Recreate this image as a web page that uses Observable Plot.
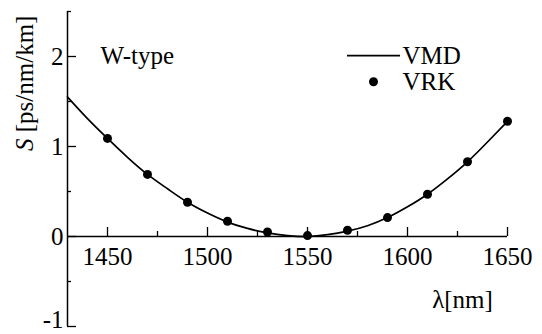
<!DOCTYPE html>
<html>
<head>
<meta charset="utf-8">
<script src="https://cdn.jsdelivr.net/npm/d3@7"></script>
<script src="https://cdn.jsdelivr.net/npm/@observablehq/plot@0.6"></script>
<style>
  html, body { margin: 0; padding: 0; background: white; }
  #chart svg text, #chart svg tspan { font-family: "Liberation Serif", "Times New Roman", serif !important; }
</style>
</head>
<body>
<div id="chart"></div>
<script>
// VRK points (dots)
const vrkLambda = [1450, 1470, 1490, 1510, 1530, 1550, 1570, 1590, 1610, 1630, 1650];
const vrkS = [1.09, 0.69, 0.38, 0.17, 0.05, 0.01, 0.07, 0.21, 0.47, 0.83, 1.28];

// VMD curve (line)
const vmdLambda = [1430, 1440, 1450, 1460, 1470, 1480, 1490, 1500, 1510, 1520, 1530, 1540, 1550, 1560, 1570, 1580, 1590, 1600, 1610, 1620, 1630, 1640, 1650];
const vmdS = [1.55, 1.31, 1.09, 0.88, 0.69, 0.53, 0.38, 0.26, 0.16, 0.09, 0.04, 0.01, 0.00, 0.02, 0.06, 0.12, 0.21, 0.33, 0.47, 0.64, 0.83, 1.05, 1.28];

// axis ticks
const xTicks = [1450, 1500, 1550, 1600, 1650];
const xMinorTicks = [1475, 1525, 1575, 1625];
const yTicks = [-1, 0, 1, 2];
const yTickLabels = ["-1", "0", "1", "2"];
const yMinorTicks = [-0.5, 0.5, 1.5, 2.5];

const curve = vmdLambda.map((x, i) => ({x, y: vmdS[i]}));
const points = vrkLambda.map((x, i) => ({x, y: vrkS[i]}));

const X0 = 1430, X1 = 1650, Y0 = -1, Y1 = 2.5;
const FS = 25;
const FONT = "Liberation Serif";

const plot = Plot.plot({
  width: 542,
  height: 334,
  marginLeft: 67,
  marginRight: 35,
  marginTop: 11,
  marginBottom: 8,
  x: {domain: [X0, X1], axis: null},
  y: {domain: [Y0, Y1], axis: null},
  marks: [
    // axes
    Plot.ruleY([0], {x1: X0, x2: X1, stroke: "black", strokeWidth: 1.5}),
    Plot.ruleX([X0], {y1: Y0, y2: Y1, stroke: "black", strokeWidth: 1.5}),
    // x ticks (inward, upward)
    Plot.ruleX(xTicks, {x: d => d, y1: 0, y2: 0, insetTop: -9, stroke: "black", strokeWidth: 1.3}),
    Plot.ruleX(xMinorTicks, {x: d => d, y1: 0, y2: 0, insetTop: -5, stroke: "black", strokeWidth: 1.3}),
    // y ticks (inward, rightward)
    Plot.ruleY(yTicks, {y: d => d, x1: X0, x2: X0, insetRight: -9, stroke: "black", strokeWidth: 1.3}),
    Plot.ruleY(yMinorTicks, {y: d => d, x1: X0, x2: X0, insetRight: -4, stroke: "black", strokeWidth: 1.3}),
    // tick labels
    Plot.text(xTicks, {x: d => d, y: 0, dy: 20, text: d => String(d), fontSize: FS, fontFamily: FONT, fill: "black"}),
    Plot.text(yTicks, {filter: d => d > -1, x: X0, y: d => d, dx: -4, text: (d, i) => yTickLabels[i], textAnchor: "end", fontSize: FS, fontFamily: FONT, fill: "black"}),
    Plot.text(yTicks, {filter: d => d === -1, x: X0, y: d => d, dx: -4, dy: -7, text: (d, i) => yTickLabels[i], textAnchor: "end", fontSize: FS, fontFamily: FONT, fill: "black"}),
    // axis titles
    Plot.text(["λ[nm]"], {x: 1627.5, y: -0.7, text: d => d, fontSize: FS, fontFamily: FONT, fill: "black"}),
    Plot.text(["S [ps/nm/km]"], {frameAnchor: "left", dx: -43, dy: -18, rotate: -90, text: d => d, fontSize: FS, fontFamily: FONT, fill: "black"}),
    // panel label
    Plot.text(["W-type"], {x: 1446.5, y: 2.01, text: d => d, textAnchor: "start", fontSize: FS, fontFamily: FONT, fill: "black"}),
    // legend
    Plot.ruleY([2.01], {x1: 1570, x2: 1596.5, stroke: "black", strokeWidth: 1.7}),
    Plot.dot([{x: 1583, y: 1.72}], {x: "x", y: "y", r: 4.5, fill: "black"}),
    Plot.text(["VMD"], {x: 1597.5, y: 2.01, text: d => d, textAnchor: "start", fontSize: FS, fontFamily: FONT, fill: "black"}),
    Plot.text(["VRK"], {x: 1597.5, y: 1.72, text: d => d, textAnchor: "start", fontSize: FS, fontFamily: FONT, fill: "black"}),
    // data
    Plot.line(curve, {x: "x", y: "y", curve: "natural", stroke: "black", strokeWidth: 1.7}),
    Plot.dot(points, {x: "x", y: "y", r: 4.5, fill: "black"})
  ]
});

plot.setAttribute("font-family", FONT);
plot.querySelectorAll("text").forEach(t => {
  t.setAttribute("font-family", FONT);
  t.setAttribute("style", "font-family: 'Liberation Serif', 'Times New Roman', serif");
  if (t.textContent === "S [ps/nm/km]") {
    t.textContent = "";
    const ns = "http://www.w3.org/2000/svg";
    const a = document.createElementNS(ns, "tspan");
    a.setAttribute("font-style", "italic");
    a.textContent = "S";
    const b = document.createElementNS(ns, "tspan");
    b.textContent = " [ps/nm/km]";
    t.appendChild(a);
    t.appendChild(b);
  }
});

document.getElementById("chart").appendChild(plot);
</script>
</body>
</html>
